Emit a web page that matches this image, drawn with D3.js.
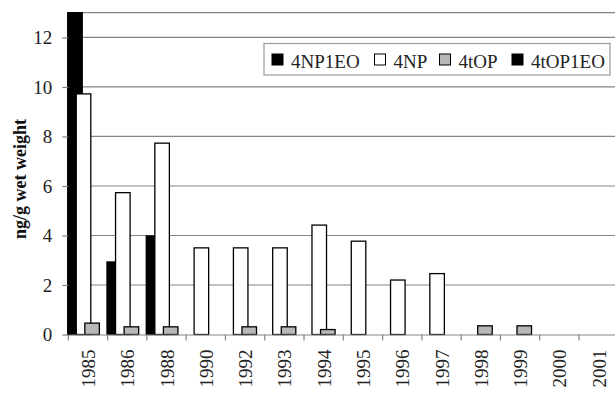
<!DOCTYPE html>
<html>
<head>
<meta charset="utf-8">
<script src="https://cdn.jsdelivr.net/npm/d3@7"></script>
<style>
  html, body { margin: 0; padding: 0; background: #fff; }
  svg { display: block; }
  text { font-family: "Liberation Serif", "Times New Roman", serif; }
</style>
</head>
<body>
<svg id="chart" width="615" height="393"></svg>
<script>
const years = ["1985","1986","1988","1990","1992","1993","1994","1995","1996","1997","1998","1999","2000","2001"];
const seriesNames = ["4NP1EO","4NP","4tOP","4tOP1EO"];
const v4NP1EO  = [13, 2.93, 3.98, 0, 0, 0, 0, 0, 0, 0, 0, 0, 0, 0];
const v4NP     = [9.72, 5.73, 7.73, 3.5, 3.5, 3.5, 4.42, 3.77, 2.2, 2.46, 0, 0, 0, 0];
const v4tOP    = [0.46, 0.31, 0.31, 0, 0.31, 0.31, 0.2, 0, 0, 0, 0.35, 0.35, 0, 0];
const v4tOP1EO = [0, 0, 0, 0, 0, 0, 0, 0, 0, 0, 0, 0, 0, 0];
const yTicks = [0, 2, 4, 6, 8, 10, 12];
const yMax = 13;

const seriesValues = [v4NP1EO, v4NP, v4tOP, v4tOP1EO];
const fills = ["#000000", "#ffffff", "#b8b8b8", "#000000"];

const svg = d3.select("#chart");
const margin = { left: 68.3, top: 12.7, bottom: 58 };
const plotRight = 618.3;
const plotBottom = 393 - margin.bottom - 0; // 335

const x = d3.scaleBand().domain(years).range([margin.left, plotRight]).padding(0);
const y = d3.scaleLinear().domain([0, yMax]).range([334.5, margin.top]);

const bw = x.bandwidth();
const step = bw * 0.218;
const barW = bw * 0.37;

// gridlines
svg.append("g").selectAll("line").data(yTicks.filter(d => d > 0).concat([yMax])).join("line")
  .attr("x1", margin.left).attr("x2", plotRight)
  .attr("y1", d => y(d)).attr("y2", d => y(d))
  .attr("stroke", "#858585").attr("stroke-width", 1.2);

// bars (later series drawn on top)
seriesValues.forEach((vals, i) => {
  svg.append("g").selectAll("rect").data(years.map((yr, j) => ({ yr, v: vals[j] })).filter(d => d.v > 0)).join("rect")
    .attr("x", d => x(d.yr) + i * step - 0.6)
    .attr("width", barW)
    .attr("y", d => y(d.v))
    .attr("height", d => y(0) - y(d.v))
    .attr("fill", fills[i])
    .attr("stroke", "#000")
    .attr("stroke-width", 1.3);
});

// x axis
const xAxis = svg.append("g").attr("transform", `translate(0,${y(0)})`)
  .call(d3.axisBottom(x).tickSize(0).tickFormat(""));
xAxis.select(".domain").attr("stroke", "#858585").attr("stroke-width", 1.2);
svg.append("g").selectAll("line").data(years).join("line")
  .attr("x1", d => x(d)).attr("x2", d => x(d))
  .attr("y1", y(0)).attr("y2", y(0) + 6)
  .attr("stroke", "#858585").attr("stroke-width", 1.2);
svg.append("g").selectAll("text").data(years).join("text")
  .attr("transform", d => `translate(${x(d) + bw / 2 + 7},${y(0) + 15}) rotate(-90)`)
  .attr("text-anchor", "end")
  .attr("font-size", 19)
  .attr("fill", "#222")
  .text(d => d);

// y axis
const yAxis = svg.append("g").attr("transform", `translate(${margin.left},0)`)
  .call(d3.axisLeft(y).tickValues(yTicks).tickSize(6).tickPadding(10).tickSizeOuter(0));
yAxis.select(".domain").attr("stroke", "#000").attr("stroke-width", 1.6);
yAxis.selectAll(".tick line").attr("stroke", "#858585").attr("stroke-width", 1.2);
yAxis.selectAll(".tick text").attr("font-size", 19).attr("fill", "#222")
  .attr("font-family", "Liberation Serif, Times New Roman, serif");

// y title
svg.append("text")
  .attr("transform", `translate(26,179) rotate(-90)`)
  .attr("text-anchor", "middle")
  .attr("font-size", 18)
  .attr("font-weight", "bold")
  .attr("fill", "#111")
  .text("ng/g wet weight");

// legend
const lg = svg.append("g");
lg.append("rect").attr("x", 264).attr("y", 43.5).attr("width", 346).attr("height", 31.5)
  .attr("fill", "#fff").attr("stroke", "#999").attr("stroke-width", 1.2);
const legendX = [272, 374.5, 439.5, 512];
seriesNames.forEach((name, i) => {
  lg.append("rect").attr("x", legendX[i]).attr("y", 54).attr("width", 11).attr("height", 11)
    .attr("fill", fills[i]).attr("stroke", "#000").attr("stroke-width", 1);
  lg.append("text").attr("x", legendX[i] + 19).attr("y", 67.5)
    .attr("font-size", 19).attr("fill", "#222").text(name);
});
</script>
</body>
</html>
